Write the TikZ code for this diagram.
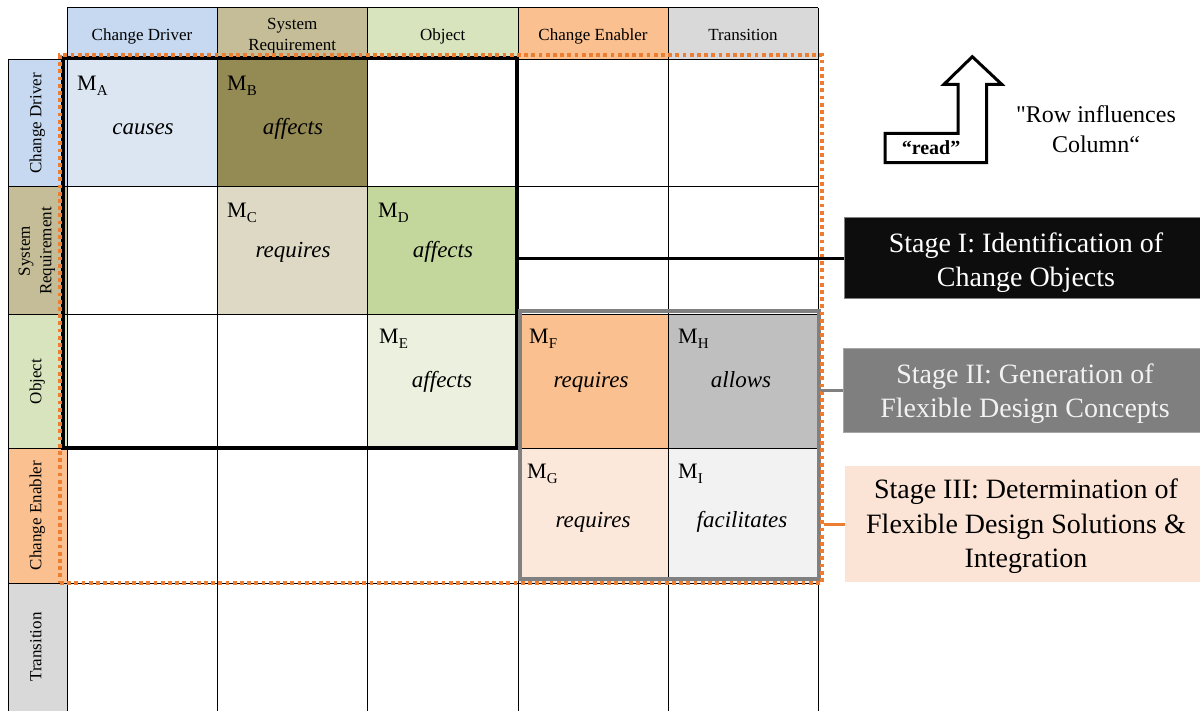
\documentclass[tikz,border=0pt]{standalone}
\usepackage{fontspec}
\setmainfont{Liberation Serif}
% same face without the TeX quote mapping, so that " stays a straight quote
\newfontfamily\rawserif{Liberation Serif}[Ligatures=TeXOff]

% header and cell colours
\definecolor{hdDriver}{HTML}{C6D9F1}
\definecolor{hdSysReq}{HTML}{C4BD97}
\definecolor{hdObject}{HTML}{D7E4BD}
\definecolor{hdEnabler}{HTML}{FAC090}
\definecolor{hdTransition}{HTML}{D9D9D9}
\definecolor{cellA}{HTML}{DCE6F2}
\definecolor{cellB}{HTML}{948A54}
\definecolor{cellC}{HTML}{DDD9C4}
\definecolor{cellD}{HTML}{C3D69B}
\definecolor{cellE}{HTML}{EBF1DE}
\definecolor{cellF}{HTML}{FAC090}
\definecolor{cellH}{HTML}{BFBFBF}
\definecolor{cellG}{HTML}{FCE8DA}
\definecolor{cellI}{HTML}{F2F2F2}
% stage colours
\definecolor{flexOrange}{HTML}{ED7D31}
\definecolor{frameGray}{HTML}{808080}
\definecolor{stageOneFill}{HTML}{0D0D0D}
\definecolor{stageTwoFill}{HTML}{7F7F7F}
\definecolor{stageTwoText}{HTML}{F2F2F2}
\definecolor{stageThreeFill}{HTML}{FBE4D5}

% matrix label M with a lowered index letter
\newcommand\mtx[1]{M\raisebox{-5pt}{\fontsize{15}{15}\selectfont #1}}

\begin{document}
\begin{tikzpicture}[x=1pt,y=-1pt,
  gridline/.style={line width=1pt, black},
  hdtext/.style={font=\fontsize{17}{21.5}\selectfont, align=center, inner sep=0pt},
  mlabel/.style={anchor=base west, inner sep=0pt, font=\fontsize{22}{26}\selectfont},
  verb/.style={anchor=base, inner sep=0pt, font=\fontsize{23}{27}\selectfont\itshape},
  stagebox/.style={minimum width=358pt, inner sep=0pt},
  stagetext/.style={font=\fontsize{28}{34.5}\selectfont, align=center, inner sep=0pt},
  connector/.style={line width=3pt}
]
\useasboundingbox (0,0) rectangle (1200,711);

% ---- header row fills
\fill[hdDriver]     (67,8)    rectangle (217,60);
\fill[hdSysReq]     (217,8)   rectangle (367.5,60);
\fill[hdObject]     (367.5,8) rectangle (518,60);
\fill[hdEnabler]    (518,8)   rectangle (668,60);
\fill[hdTransition] (668,8)   rectangle (818,60);
% ---- header column fills
\fill[hdDriver]     (8,60)  rectangle (67,187);
\fill[hdSysReq]     (8,187) rectangle (67,315);
\fill[hdObject]     (8,315) rectangle (67,448);
\fill[hdEnabler]    (8,448) rectangle (67,583);
\fill[hdTransition] (8,583) rectangle (67,712);
% ---- matrix cell fills
\fill[cellA] (67,60)     rectangle (217,187);
\fill[cellB] (217,60)    rectangle (367.5,187);
\fill[cellC] (217,187)   rectangle (367.5,315);
\fill[cellD] (367.5,187) rectangle (518,315);
\fill[cellE] (367.5,315) rectangle (518,448);
\fill[cellF] (518,315)   rectangle (668,448);
\fill[cellH] (668,315)   rectangle (818,448);
\fill[cellG] (518,448)   rectangle (668,583);
\fill[cellI] (668,448)   rectangle (818,583);

% ---- grid lines
\draw[gridline] (67,8) -- (818,8);
\foreach \y in {60,187,315,448,583} \draw[gridline] (8,\y) -- (818,\y);
\draw[gridline] (8,60) -- (8,712);
\foreach \x in {67,217,367.5,518,668,818} \draw[gridline] (\x,8) -- (\x,712);

% ---- column headings
\node[hdtext, anchor=base] (hDriver) at (142,40.7) {Change Driver};
\node[hdtext] (hSysReq) at (292.25,36) {System\\Requirement};
\node[hdtext, anchor=base] (hObject) at (442.75,40.7) {Object};
\node[hdtext, anchor=base] (hEnabler) at (593,40.7) {Change Enabler};
\node[hdtext, anchor=base] (hTransition) at (743,40.7) {Transition};
% ---- row headings
\node[hdtext, rotate=90, anchor=base] (rDriver) at (41.5,123.5) {Change Driver};
\node[hdtext, rotate=90] (rSysReq) at (36.7,251) {System\\Requirement};
\node[hdtext, rotate=90, anchor=base] (rObject) at (41.5,381.5) {Object};
\node[hdtext, rotate=90, anchor=base] (rEnabler) at (41.5,515.5) {Change Enabler};
\node[hdtext, rotate=90, anchor=base] (rTransition) at (41.5,647) {Transition};

% ---- matrix entries
\node[mlabel] (mA) at (77,91)   {\mtx{A}};
\node[verb]   (vA) at (143,135) {causes};
\node[mlabel] (mB) at (227,91)  {\mtx{B}};
\node[verb]   (vB) at (293,135) {affects};
\node[mlabel] (mC) at (227,218) {\mtx{C}};
\node[verb]   (vC) at (293,258) {requires};
\node[mlabel] (mD) at (378,218) {\mtx{D}};
\node[verb]   (vD) at (443,258) {affects};
\node[mlabel] (mE) at (379,344) {\mtx{E}};
\node[verb]   (vE) at (442,388) {affects};
\node[mlabel] (mF) at (529,344) {\mtx{F}};
\node[verb]   (vF) at (591,388) {requires};
\node[mlabel] (mH) at (678,344) {\mtx{H}};
\node[verb]   (vH) at (741,388) {allows};
\node[mlabel] (mG) at (527,478) {\mtx{G}};
\node[verb]   (vG) at (593,527) {requires};
\node[mlabel] (mI) at (678,478) {\mtx{I}};
\node[verb]   (vI) at (742,527) {facilitates};

% ---- stage frames
\node[draw=black, line width=4pt, minimum width=453.5pt, minimum height=389.5pt, inner sep=0pt]
  (frameOne) at (289.75,253.25) {};
\node[draw=frameGray, line width=3.5pt, minimum width=299pt, minimum height=268pt, inner sep=0pt]
  (frameTwo) at (669.5,445) {};
\node[draw=flexOrange, line width=4pt, dash pattern=on 3.8pt off 3.4pt,
  minimum width=762pt, minimum height=528pt, inner sep=0pt]
  (frameAll) at (441,319) {};

% ---- reading direction arrow
\draw[line width=3pt, line join=miter]
  (958,84.3) -- (944,84.3) -- (972.3,56.7) -- (1001.7,84.3) -- (986.7,84.3)
  -- (986.7,162.7) -- (885,162.7) -- (885,133.3) -- (958,133.3) -- cycle;
\node[inner sep=0pt, font=\bfseries\fontsize{20}{24}\selectfont] (readLbl) at (931,148) {“read”};
\node[inner sep=0pt, align=center, font=\rawserif\fontsize{24}{30}\selectfont] (ruleLbl) at (1096,128.8)
  {"Row influences\\Column“};

% ---- stage boxes
\node[stagebox, draw=frameGray, line width=1pt, fill=stageOneFill, minimum height=81pt]
  (stageOne) at (1023,258.5) {};
\node[stagetext, text=white] (stageOneTxt) at (1026,262.5)
  {Stage I: Identification of\\Change Objects};
\node[stagebox, draw=gray!70, line width=1pt, fill=stageTwoFill, minimum height=83pt]
  (stageTwo) at (1022,390.5) {};
\node[stagetext, text=stageTwoText] (stageTwoTxt) at (1025,393.5)
  {Stage II: Generation of\\Flexible Design Concepts};
\node[stagebox, fill=stageThreeFill, minimum height=116pt]
  (stageThree) at (1024,524) {};
\node[stagetext, text=black] (stageThreeTxt) at (1026,526.5)
  {Stage III: Determination of\\Flexible Design Solutions \&\\Integration};

% ---- connectors from frames to stage boxes
\draw[connector, black] (stageOne.west -| frameOne.east) -- (stageOne.west);
\draw[connector, frameGray] (stageTwo.west -| frameTwo.east) -- (stageTwo.west);
\draw[connector, flexOrange] (stageThree.west -| frameAll.east) -- (stageThree.west);
\end{tikzpicture}
\end{document}
